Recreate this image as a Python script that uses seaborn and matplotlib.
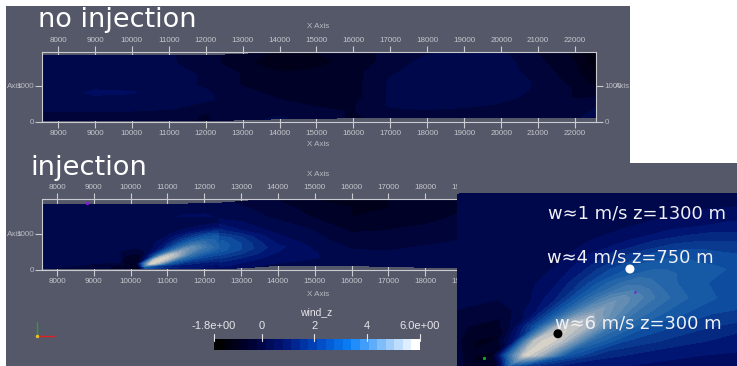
import numpy as np
import seaborn as sns
import matplotlib.pyplot as plt
from matplotlib.colors import ListedColormap, BoundaryNorm
from matplotlib.patches import Rectangle

# === wind_z values ===
# top panel, no injection
x_a = [7570, 8000, 9000, 10000, 11000, 12000, 13000, 14000, 15000, 16000, 17000, 18000, 19000, 20000, 21000, 22000, 22570]
eta_a = [0.0, 0.1, 0.2, 0.32, 0.43, 0.54, 0.7, 0.86, 1.0]
top_a = [1860, 1860, 1860, 1860, 1850, 1840, 1880, 1940, 1940, 1940, 1940, 1930, 1940, 1940, 1940, 1940, 1940]
bot_a = [30, 30, 30, 30, 30, 40, 60, 90, 100, 120, 130, 120, 130, 120, 120, 120, 120]
wind_a = [
    [.1, .1, -.1, -.1, -.1, -.2, .0, .25, -.1, -.2, -.1, -.1, -.1, -.1, -.1, .1, .3],
    [.1, .1, .0, .0, .0, -.2, .0, .0, -.1, -.2, .1, .1, .0, .0, -.1, .0, .2],
    [.2, .2, .3, .3, .2, .0, -.1, -.1, -.2, -.2, .2, .3, .3, .1, -.1, -.1, .1],
    [.2, .3, .35, .35, .3, .2, .0, -.2, -.2, -.3, .2, .3, .3, .3, .0, -.2, -.2],
    [.2, .3, .55, .5, .3, .2, -.1, -.3, -.3, -.3, .2, .3, .3, .3, .1, -.2, -.4],
    [.2, .3, .35, .35, .3, .1, -.2, -.3, -.3, -.3, .2, .3, .3, .4, .1, -.3, -.7],
    [.3, .3, .3, .3, .3, .1, -.2, -.5, -.4, -.3, .1, .3, .3, .3, .0, -.4, -.9],
    [.3, .3, .3, .3, .2, .0, -.4, -.8, -.7, -.3, -.1, .3, .3, .3, -.1, -.5, -1.1],
    [.3, .3, .3, .3, .2, -.1, -.3, -.6, -.5, -.3, -.1, .1, .2, .2, -.2, -.6, -1.2],
]

# middle panel, injection, background around the plume
x_b = [7570, 8000, 9000, 10000, 10200, 10400, 10700, 11000, 11500, 12000, 12500, 13000, 13500, 14000, 15000, 16000, 17000, 18000, 19000]
eta_b = [0.0, 0.05, 0.12, 0.2, 0.28, 0.36, 0.46, 0.57, 0.73, 0.88, 1.0]
top_b = [1830, 1830, 1830, 1830, 1830, 1830, 1830, 1830, 1830, 1840, 1860, 1900, 1940, 1950, 1950, 1950, 1950, 1950, 1950]
bot_b = [30, 30, 30, 30, 30, 30, 30, 30, 30, 30, 40, 60, 90, 130, 130, 130, 90, 80, 80]
wind_b = [
    [.2, .1, .1, -.5, -.6, 2.0, 1.5, 1.0, .8, .7, .6, .5, .4, .4, .3, .3, .4, .4, .4],
    [.2, .2, .1, -.5, -.8, 2.5, 2.0, 1.5, 1.2, 1.0, .9, .7, .6, .5, .4, .3, .4, .4, .4],
    [.2, .2, .2, .2, -.5, 2.0, 2.0, 2.0, 2.0, 1.6, 1.2, 1.0, .8, .7, .5, .3, .3, .4, .4],
    [.2, .2, .2, .2, -.2, 1.2, 2.0, 2.0, 2.0, 2.0, 1.7, 1.4, 1.1, .8, .5, .2, .2, .3, .4],
    [.2, .3, .3, .2, .0, .6, 1.5, 2.0, 2.0, 2.0, 2.2, 1.8, 1.3, .9, .4, .1, .1, .2, .3],
    [.3, .3, .4, .2, .2, .4, 1.0, 2.0, 2.0, 2.0, 2.3, 1.8, 1.2, .7, .3, .0, .0, .1, .2],
    [.3, .4, .4, .3, .3, .4, .8, 1.5, 2.0, 2.0, 2.0, 1.5, .9, .5, .2, -.1, -.1, .0, .1],
    [.3, .4, .4, .4, .4, .4, .6, 1.0, 1.5, 1.5, 1.2, .8, .5, .3, .1, -.3, -.2, -.1, .0],
    [.3, .4, .4, .4, .4, .4, .4, .5, .7, .7, .5, .4, .2, .1, -.2, -.5, -.4, -.3, -.1],
    [.3, .4, .4, .4, .4, .4, .4, .4, .4, .4, .3, .2, .1, .0, -.4, -.5, -.5, -.4, -.2],
    [.3, .4, .4, .4, .4, .4, .4, .4, .4, .3, .2, .1, .0, -.2, -.5, -.6, -.5, -.4, -.2],
]

# plume, read along a sheared grid so the ridge follows one column: x = x_c + shear * z
shear = 2.8
x_c = [6200, 7600, 8300, 8700, 9100, 9400, 9700, 9950, 10120, 10300, 10600, 11000, 11500, 12200, 12900]
z_c = [76, 150, 250, 350, 450, 550, 650, 750, 850, 950, 1050, 1150, 1278]
wind_c = [
    [.2, .2, .2, .2, .2, .2, -.4, -1.0, 2.2, 1.6, 1.2, .9, .8, .7, .6],
    [.2, .2, .2, .2, .2, -.2, -1.0, 3.2, 5.9, 5.0, 2.2, 1.3, 1.0, .8, .7],
    [.2, .2, .2, .2, -.2, -.9, .8, 5.4, 5.9, 5.2, 2.8, 1.8, 1.4, 1.0, .9],
    [.2, .2, .2, .2, -.6, .2, 2.2, 5.2, 5.6, 5.0, 3.0, 2.1, 1.6, 1.2, 1.1],
    [.2, .2, .2, -.2, .1, .8, 2.4, 4.0, 4.6, 4.0, 3.0, 2.3, 1.8, 1.6, 1.5],
    [.2, .2, .2, .2, .5, 1.2, 2.5, 3.5, 3.9, 3.6, 2.9, 2.3, 1.9, 1.8, 1.7],
    [.2, .2, .2, .3, .8, 1.6, 2.5, 3.0, 2.9, 2.7, 2.3, 2.0, 2.0, 2.0, 2.0],
    [.2, .2, .2, .4, 1.0, 1.7, 2.2, 2.4, 2.4, 2.3, 2.2, 2.0, 2.0, 2.0, 2.0],
    [.2, .2, .3, .5, 1.1, 1.5, 1.9, 2.0, 2.0, 1.9, 1.8, 1.8, 1.8, 1.8, 1.8],
    [.2, .2, .3, .5, .8, 1.1, 1.3, 1.4, 1.4, 1.4, 1.4, 1.4, 1.4, 1.4, 1.4],
    [.2, .2, .2, .4, .6, .7, .8, .9, .9, .9, .9, .9, .9, .9, .9],
    [.2, .2, .2, .3, .4, .5, .5, .6, .6, .6, .6, .6, .6, .6, .6],
    [.2, .2, .2, .2, .3, .3, .4, .4, .4, .4, .4, .4, .4, .4, .4],
]
dot_x = [11770, 10923]
dot_z = [750, 300]
dot_colors = ['white', 'black']

x_ticks = [8000, 9000, 10000, 11000, 12000, 13000, 14000, 15000, 16000, 17000, 18000, 19000, 20000, 21000, 22000]
z_ticks = [0, 1000]
bar_ticks = [-1.8, 0, 2, 4, 6]
bar_labels = ['-1.8e+00', '0', '2', '4', '6.0e+00']

GREY = '#555869'
LINE = '#c9cbd0'
W, H = 737, 366

sns.set_theme(style='dark', rc={'axes.facecolor': GREY, 'figure.facecolor': 'white'})
plt.rcParams['font.family'] = ['Liberation Sans', 'DejaVu Sans']

# rendered field colours are dimmer than the scalar bar because of the lighting
field_pal = sns.blend_palette(['#000000', '#000023', '#000f6e', '#0f55a5', '#467daf', '#87a0b9', '#d7d2c8'], 24)
bar_pal = sns.blend_palette(['#000000', '#000032', '#001478', '#0046be', '#0a82fa', '#82befa', '#ffffff'], 24)
levels = np.linspace(-1.8, 6, 25)
field_cmap = ListedColormap(field_pal)
norm = BoundaryNorm(levels, 24)

fig = plt.figure(figsize=(W / 100, H / 100), dpi=100)


def ax_px(x0, y0, x1, y1, zorder):
    """Axes placed by pixel box, y counted from the top of the image."""
    return fig.add_axes([x0 / W, 1 - y1 / H, (x1 - x0) / W, (y1 - y0) / H], zorder=zorder)


def draw_field(ax, x, eta, top, bot, wind):
    x = np.array(x)
    top = np.array(top)
    bot = np.array(bot)
    X, E = np.meshgrid(x, np.array(eta))
    Z = bot + E * (top - bot)
    ax.contourf(X, Z, np.array(wind), levels=levels, cmap=field_cmap, norm=norm, extend='both')


def draw_plume(ax, z_scale=1.0):
    S, Z = np.meshgrid(np.array(x_c), np.array(z_c))
    return ax.contourf(S + shear * Z, Z * z_scale, np.array(wind_c), levels=levels, cmap=field_cmap, norm=norm,
                       extend='both')


def style_box(ax, right_labels=False):
    ax.set_facecolor(GREY)
    ax.set_xticks(x_ticks)
    ax.set_yticks(z_ticks)
    for s in ax.spines.values():
        s.set_visible(True)
        s.set_color(LINE)
        s.set_linewidth(0.8)
    ax.tick_params(axis='x', which='major', bottom=True, top=True, labelbottom=True, labeltop=True,
                   direction='inout', length=8, width=0.8, color=LINE, labelsize=5.8, labelcolor='#c4c6cc', pad=1.5)
    ax.tick_params(axis='y', which='major', left=True, right=right_labels, labelleft=True, labelright=right_labels,
                   direction='out', length=5, width=0.8, color=LINE, labelsize=5.8, labelcolor='#b8bac2', pad=1)
    ax.set_xlabel('')
    ax.set_ylabel('')
    ax.grid(False)


# background in pixel coordinates
bg = ax_px(0, 0, W, H, 0)
bg.set_xlim(0, W)
bg.set_ylim(H, 0)
bg.axis('off')
bg.add_patch(Rectangle((6, 6), 624, 158, color=GREY, lw=0))
bg.add_patch(Rectangle((6, 163), W - 6, H - 163, color=GREY, lw=0))

# no injection
ax_a = ax_px(42, 52, 596, 122, 1)
draw_field(ax_a, x_a, eta_a, top_a, bot_a, wind_a)
ax_a.set_xlim(7566, 22570)
ax_a.set_ylim(0, 1944)
style_box(ax_a, right_labels=True)

# injection, its right end sits under the inset
ax_b = ax_px(42, 199, 596, 270, 1)
draw_field(ax_b, x_b, eta_b, top_b, bot_b, wind_b)
plume_b = draw_plume(ax_b, z_scale=1.15)
plume_b.set_clip_path(Rectangle((9735, 0), 12400 - 9735, 1970, transform=ax_b.transData))
ax_b.set_xlim(7592, 22640)
ax_b.set_ylim(0, 1970)
style_box(ax_b)

# grey cover plus the zoomed plume
cover = ax_px(457, 164, W, H, 3)
cover.set_facecolor(GREY)
cover.set_xticks([])
cover.set_yticks([])
for s in cover.spines.values():
    s.set_visible(False)

ax_c = ax_px(457, 193, W, H, 4)
draw_plume(ax_c)
sns.scatterplot(x=dot_x, y=dot_z, hue=dot_x, palette=dict(zip(dot_x, dot_colors)), s=42, linewidth=0,
                legend=False, ax=ax_c, zorder=5)
ax_c.set_xlim(9735, 13030)
ax_c.set_ylim(76, 1278)
ax_c.axis('off')

# scalar bar
bar = ax_px(214, 339, 420, 350, 2)
sns.heatmap(np.array([levels[:-1] + 0.1625]), cmap=ListedColormap(bar_pal), norm=norm, cbar=False,
            xticklabels=False, yticklabels=False, ax=bar)

# texts and small marks on top
top = ax_px(0, 0, W, H, 6)
top.set_xlim(0, W)
top.set_ylim(H, 0)
top.axis('off')
top.patch.set_alpha(0)

top.text(38, 27, 'no injection', color='white', fontsize=19.5, family='DejaVu Sans', va='baseline')
top.text(30, 175, 'injection', color='white', fontsize=19.6, family='DejaVu Sans', va='baseline')
top.text(548, 219, 'w≈1 m/s z=1300 m', color='#f0f0f5', fontsize=12.9, family='DejaVu Sans', va='baseline')
top.text(547, 262, 'w≈4 m/s z=750 m', color='#f0f0f5', fontsize=12.9, family='DejaVu Sans', va='baseline')
top.text(555, 329, 'w≈6 m/s z=300 m', color='#f0f0f5', fontsize=12.9, family='DejaVu Sans', va='baseline')

for y in [26, 145, 174, 294]:
    top.text(318, y, 'X Axis', color='#b8bac2', fontsize=5.8, ha='center', va='center')
top.text(7, 86, 'Axis', color='#b8bac2', fontsize=5.8, va='center')
top.text(7, 234, 'Axis', color='#b8bac2', fontsize=5.8, va='center')
top.text(615, 86, 'Axis', color='#b8bac2', fontsize=5.8, va='center')

top.text(316, 312, 'wind_z', color='#e6e6ea', fontsize=7.5, ha='center', va='center')
for v, lab in zip(bar_ticks, bar_labels):
    px = 214 + (v + 1.8) / 7.8 * 206
    top.plot([px, px], [334, 341], color='#e6e6ea', lw=0.8)
    top.text(px, 326, lab, color='#e6e6ea', fontsize=8, ha='center', va='center')

# orientation triad
top.plot([37, 37], [322, 336], color='#2ca02c', lw=1)
top.plot([37, 54], [336, 336], color='#e02020', lw=1)
top.plot([37], [336], 'o', color='#e8c020', ms=1.5)
top.plot([87], [203], 'o', color='#7a1fd0', ms=1.5)
top.plot([635], [292], 'o', color='#7a1fd0', ms=0.8)
top.plot([484], [358], 's', color='#20a020', ms=1.2)

fig.savefig('out.png', dpi=100)
